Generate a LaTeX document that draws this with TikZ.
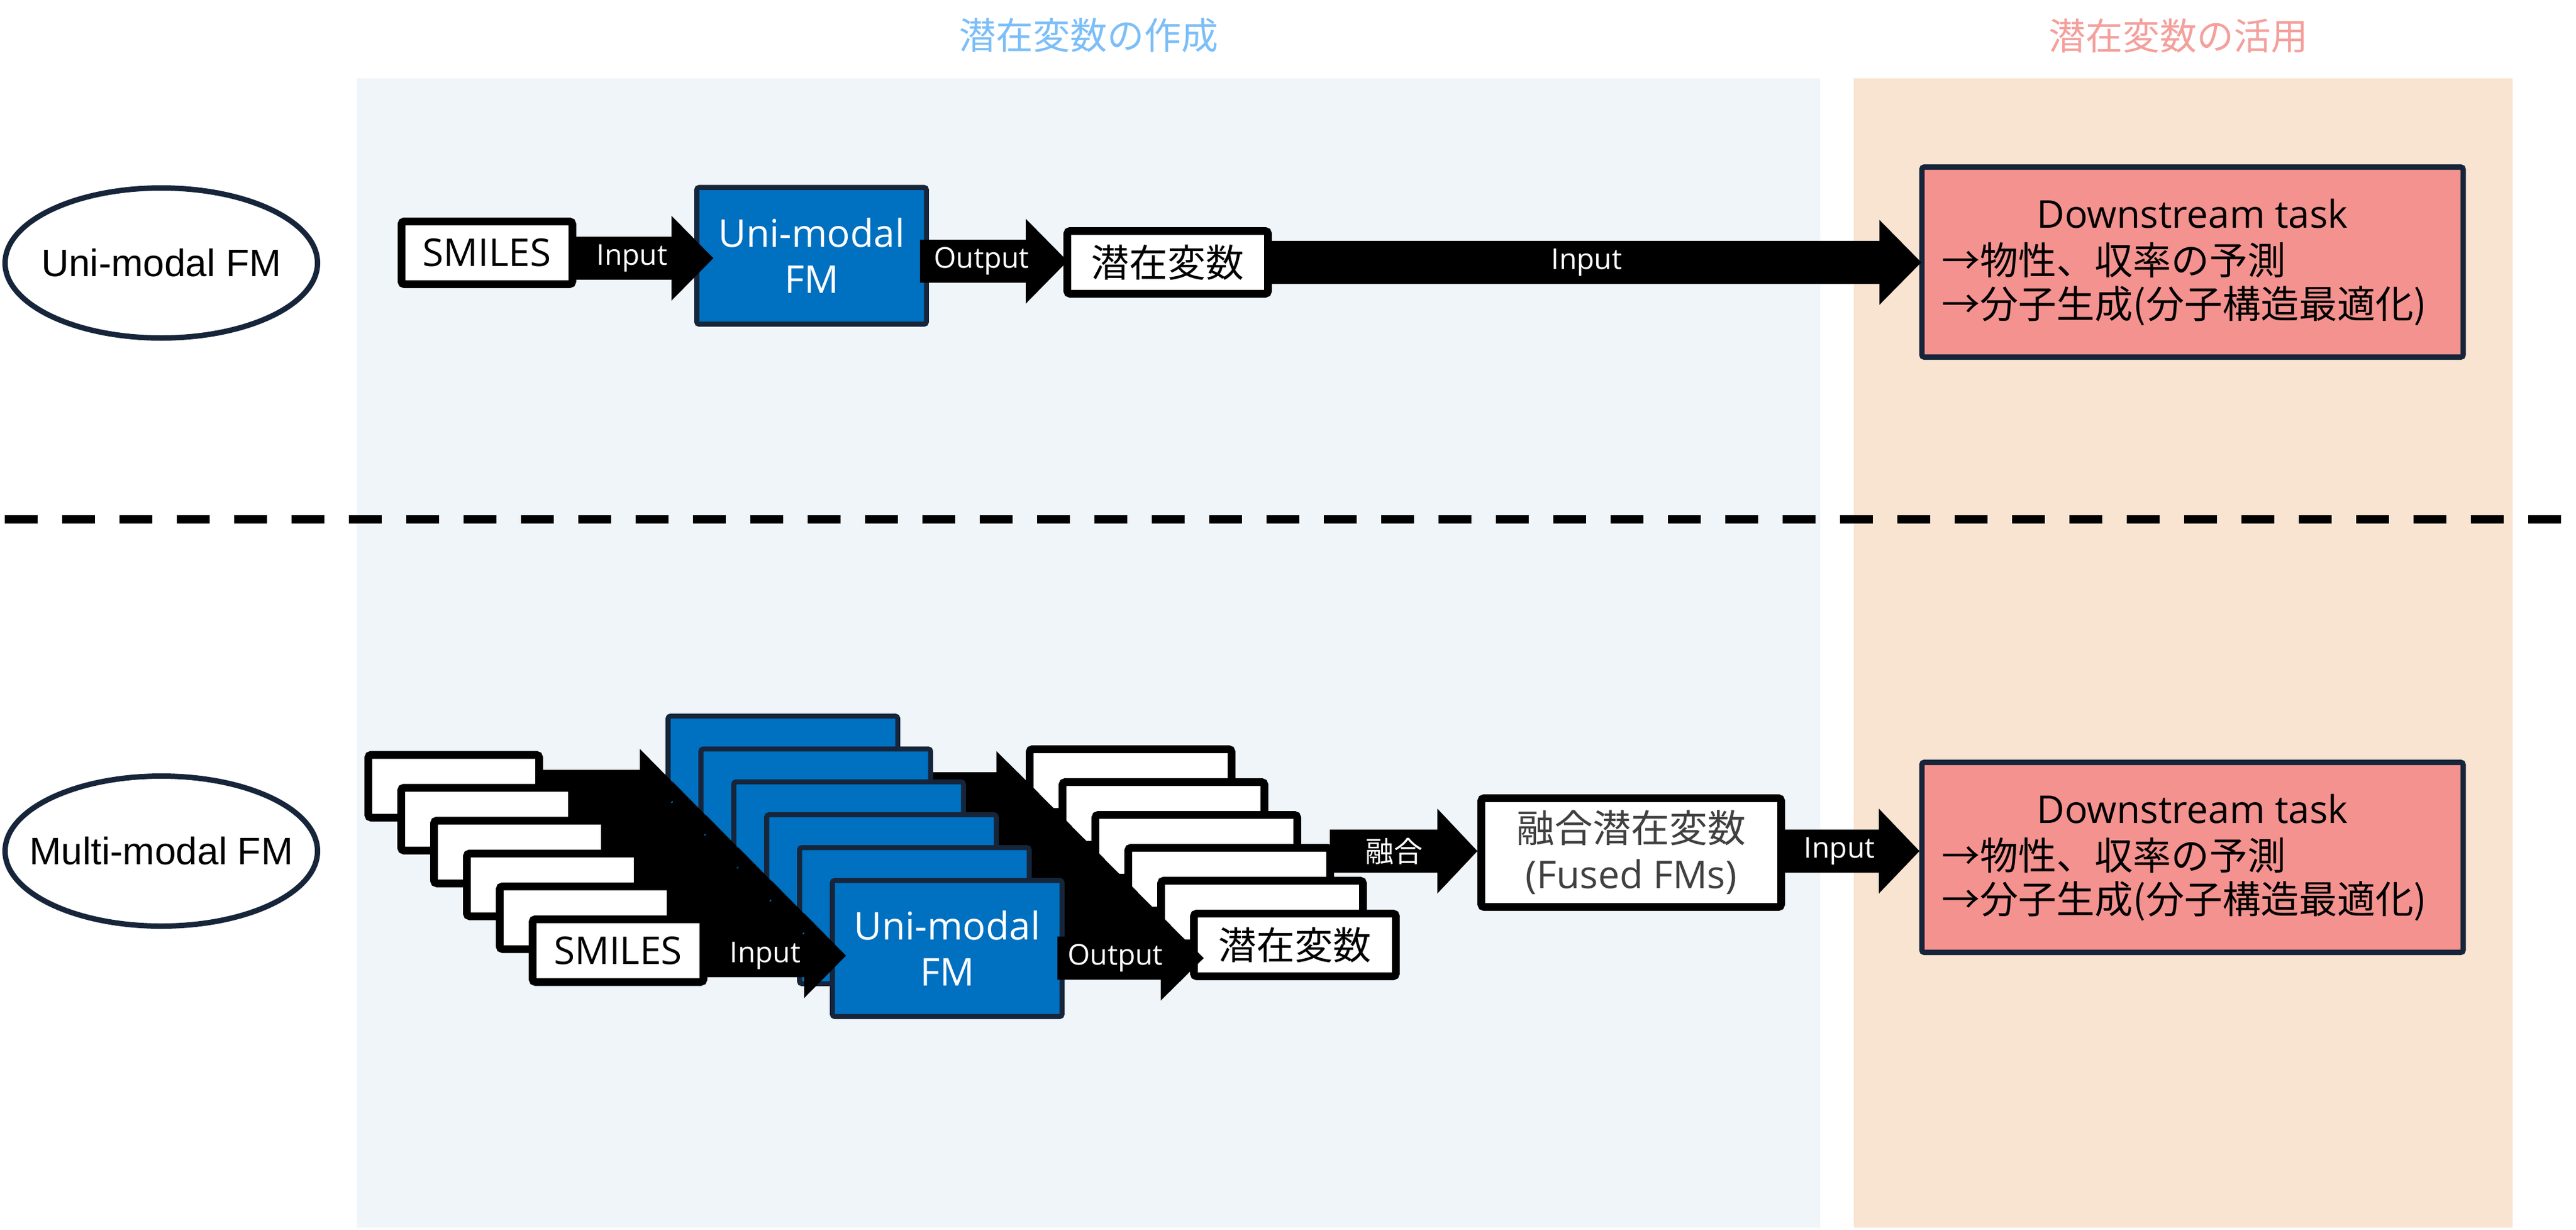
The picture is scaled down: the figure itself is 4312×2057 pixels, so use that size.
\documentclass[tikz,border=0pt]{standalone}
\usepackage{fontspec}
\setmainfont{Open Sans}
\newfontfamily\jp{Noto Sans CJK JP}
\newfontfamily\arialf{Liberation Sans}
\usetikzlibrary{shapes.geometric}
\definecolor{fmblue}{HTML}{0070C0}
\definecolor{navy}{HTML}{17253A}
\definecolor{panelblue}{HTML}{F0F5FA}
\definecolor{panelorange}{HTML}{F9E4D2}
\definecolor{dsfill}{HTML}{F4928F}
\definecolor{titleblue}{HTML}{7CBEF8}
\definecolor{titlered}{HTML}{F4A09C}
\definecolor{fusedtext}{HTML}{404040}
\newcommand\barrow[4]{\fill[black] (#1,#4-36) -- (#2,#4-36) -- (#2,#4-71) -- (#3,#4) -- (#2,#4+71) -- (#2,#4+36) -- (#1,#4+36) -- cycle;}
\tikzset{
  big/.style={font=\fontsize{16pt}{19.25pt}\selectfont},
  small/.style={font=\fontsize{12pt}{14pt}\selectfont, inner sep=0pt},
  txt/.style={big, inner sep=0pt},
  whitebox/.style={draw=black, line width=3.25pt, fill=white, rounded corners=1.2pt, inner sep=0pt, minimum height=26.25pt, big},
  smilesbox/.style={whitebox, minimum width=71.5pt},
  latbox/.style={whitebox, minimum width=84pt},
  fmbox/.style={draw=navy, line width=2.1pt, fill=fmblue, rounded corners=1pt, inner sep=0pt, minimum width=96.1pt, minimum height=57.2pt, text=white, align=center, big},
  dsbox/.style={draw=navy, line width=2.25pt, fill=dsfill, rounded corners=1pt, minimum width=226.5pt, minimum height=79.5pt, inner sep=0pt},
  fusedbox/.style={whitebox, minimum width=125.5pt, minimum height=45.5pt, text=fusedtext, align=center},
  modeell/.style={ellipse, draw=navy, line width=2.25pt, fill=white, minimum width=130.75pt, minimum height=62.75pt, inner sep=0pt},
  modetext/.style={font=\arialf\fontsize{16pt}{19pt}\selectfont, inner sep=0pt},
  titletext/.style={font=\jp\fontsize{15.5pt}{18pt}\selectfont, inner sep=0pt}
}
\begin{document}
\begin{tikzpicture}[x=0.25pt,y=-0.25pt]
\useasboundingbox (0,0) rectangle (4312,2057);
\fill[white] (0,0) rectangle (4312,2057);
% panels
\fill[panelblue] (597,131) rectangle (3047,2054);
\fill[panelorange] (3103,131) rectangle (4206,2054);
\node[titletext, text=titleblue] (t1) at (1822,59) {潜在変数の作成};
\node[titletext, text=titlered] (t2) at (3646,60) {潜在変数の活用};
% dashed separator
\coordinate (dl) at (8,869);
\coordinate (dr) at (4312,869);
\draw[line width=3.5pt, dash pattern=on 13.75pt off 10.25pt] (dl) -- (dr);
% mode ellipses
\node[modeell] (e1) at (270,440) {};
\node[modetext] (e1t) at (e1) {Uni-modal FM};
\node[modeell] (e2) at (270,1424) {};
\node[modetext] (e2t) at (e2) {Multi-modal FM};
% ---------- top row ----------
\node[smilesbox] (sm) at (815,423) {SMILES};
\node[fmbox] (fm) at (1358.5,428) {Uni-modal\\FM};
\node[latbox] (lat) at (1954.5,439) {\jp 潜在変数};
\node[dsbox] (ds1) at (3670,438.5) {};
\barrow{964}{1124}{1194}{432}
\barrow{1540}{1717}{1787}{437}
\barrow{2129}{3146}{3216}{439}
\node[small, text=white] (l1) at (1058,432) {Input};
\node[small, text=white] (l2) at (1643,437) {Output};
\node[small, text=white] (l3) at (2656,439) {Input};
\node[txt] (ds1a) at (3670,357) {Downstream task};
\node[txt, anchor=west] (ds1b) at (3250,435) {\jp →物性、収率の予測};
\node[txt, anchor=west] (ds1c) at (3250,512) {\jp →分子生成(分子構造最適化)};
% ---------- bottom row ----------
\barrow{2226}{2406}{2473}{1424}
\foreach \k in {0,...,5}{
  \pgfmathsetmacro\dd{55*(\k-5)}
  \begin{scope}[shift={(\dd,\dd)}]
    \node[smilesbox] (smb\k) at (1034.5,1590.5) {};
    \node[fmbox, minimum height=56.9pt] (fmb\k) at (1585.5,1587) {};
    \node[latbox, minimum width=84.5pt] (ltb\k) at (2167.5,1581) {};
    \barrow{1184}{1346}{1416}{1599}
    \barrow{1770}{1943}{2015}{1603}
  \end{scope}
}
\node[txt] (smb5t) at (smb5) {SMILES};
\node[txt, text=white, align=center] (fmb5t) at (fmb5) {Uni-modal\\FM};
\node[txt] (ltb5t) at (ltb5) {\jp 潜在変数};
\node[small, text=white] (l4) at (1281,1599) {Input};
\node[small, text=white] (l5) at (1867,1603) {Output};
\node[small, text=white] (l6) at (2333,1424) {\jp 融合};
\node[fusedbox] (fused) at (2730.5,1426.5) {{\jp 融合潜在変数}\\(Fused FMs)};
\node[dsbox] (ds2) at (3670,1434.5) {};
\barrow{2988}{3145}{3213}{1424}
\node[small, text=white] (l7) at (3079,1424) {Input};
\node[txt] (ds2a) at (3670,1353) {Downstream task};
\node[txt, anchor=west] (ds2b) at (3250,1431) {\jp →物性、収率の予測};
\node[txt, anchor=west] (ds2c) at (3250,1508) {\jp →分子生成(分子構造最適化)};
\end{tikzpicture}
\end{document}
